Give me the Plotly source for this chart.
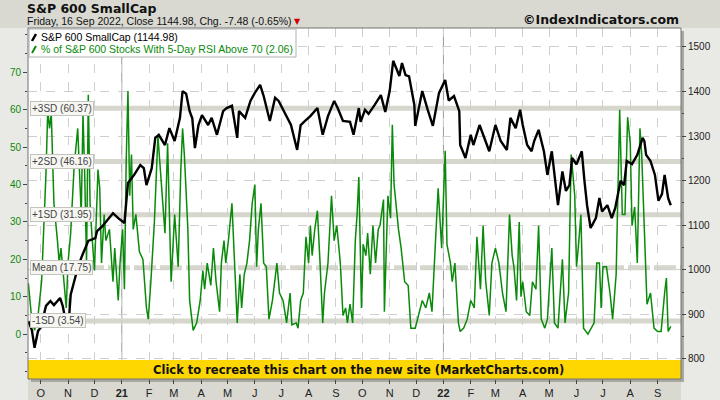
import plotly.graph_objects as go

# ---------------- data ----------------
spx_dates = [
    "2020-09-17", "2020-09-21", "2020-09-24", "2020-09-28", "2020-10-01", "2020-10-07", "2020-10-12",
    "2020-10-16", "2020-10-23", "2020-10-26", "2020-10-28", "2020-11-02", "2020-11-04", "2020-11-12",
    "2020-11-16", "2020-11-24", "2020-12-02", "2020-12-04", "2020-12-10", "2020-12-16", "2020-12-22",
    "2020-12-28", "2021-01-04", "2021-01-08", "2021-01-15", "2021-01-22", "2021-01-26", "2021-01-29",
    "2021-02-04", "2021-02-08", "2021-02-12", "2021-02-19", "2021-02-24", "2021-03-02", "2021-03-08",
    "2021-03-11", "2021-03-15", "2021-03-19", "2021-03-22", "2021-03-25", "2021-03-29", "2021-04-02",
    "2021-04-09", "2021-04-13", "2021-04-19", "2021-04-26", "2021-04-30", "2021-05-06", "2021-05-12",
    "2021-05-14", "2021-05-21", "2021-05-27", "2021-06-01", "2021-06-07", "2021-06-11", "2021-06-18",
    "2021-06-24", "2021-06-28", "2021-07-05", "2021-07-12", "2021-07-19", "2021-07-23", "2021-07-28",
    "2021-08-03", "2021-08-11", "2021-08-17", "2021-08-23", "2021-08-30", "2021-09-03", "2021-09-09",
    "2021-09-17", "2021-09-21", "2021-09-27", "2021-09-29", "2021-10-04", "2021-10-08", "2021-10-15",
    "2021-10-22", "2021-10-27", "2021-11-01", "2021-11-05", "2021-11-12", "2021-11-15", "2021-11-19",
    "2021-11-23", "2021-11-29", "2021-11-30", "2021-12-08", "2021-12-14", "2021-12-20", "2021-12-27",
    "2021-12-31", "2022-01-03", "2022-01-07", "2022-01-13", "2022-01-19", "2022-01-20", "2022-01-26",
    "2022-02-01", "2022-02-04", "2022-02-11", "2022-02-22", "2022-03-01", "2022-03-07", "2022-03-14",
    "2022-03-18", "2022-03-24", "2022-03-29", "2022-04-01", "2022-04-06", "2022-04-11", "2022-04-14",
    "2022-04-19", "2022-04-25", "2022-04-29", "2022-05-04", "2022-05-09", "2022-05-11", "2022-05-16",
    "2022-05-20", "2022-05-24", "2022-05-27", "2022-06-01", "2022-06-07", "2022-06-10", "2022-06-13",
    "2022-06-17", "2022-06-23", "2022-06-27", "2022-06-30", "2022-07-06", "2022-07-11", "2022-07-15",
    "2022-07-21", "2022-07-25", "2022-07-28", "2022-08-03", "2022-08-09", "2022-08-15", "2022-08-17",
    "2022-08-19", "2022-08-24", "2022-08-29", "2022-09-02", "2022-09-06", "2022-09-09", "2022-09-13",
    "2022-09-16",
]
spx_values = [
    885, 865, 825, 863, 870, 919, 930,
    921, 937, 919, 899, 888, 944, 1004,
    1027, 1065, 1071, 1087, 1098, 1112, 1127,
    1116, 1105, 1195, 1213, 1235, 1228, 1190,
    1228, 1296, 1303, 1280, 1318, 1289, 1341,
    1401, 1395, 1356, 1340, 1273, 1325, 1347,
    1325, 1341, 1303, 1356, 1363, 1368, 1296,
    1356, 1341, 1379, 1397, 1415, 1390, 1334,
    1386, 1379, 1352, 1325, 1269, 1325, 1334,
    1345, 1363, 1303, 1345, 1379, 1363, 1334,
    1332, 1303, 1363, 1332, 1359, 1350, 1370,
    1392, 1354, 1401, 1469, 1435, 1464, 1437,
    1434, 1370, 1323, 1401, 1360, 1323, 1397,
    1412, 1426, 1380, 1390, 1356, 1280, 1251,
    1303, 1280, 1325, 1266, 1325, 1289, 1269,
    1341, 1318, 1359, 1325, 1280, 1266, 1289,
    1314, 1266, 1213, 1266, 1184, 1145, 1221,
    1177, 1190, 1251, 1237, 1266, 1200, 1145,
    1094, 1116, 1161, 1131, 1145, 1116, 1139,
    1200, 1190, 1244, 1237, 1258, 1296, 1289,
    1258, 1244, 1213, 1155, 1170, 1213, 1161,
    1144.98,
]

rsi_dates = [
    "2020-09-17", "2020-09-20", "2020-09-24", "2020-09-28", "2020-10-02", "2020-10-07", "2020-10-09",
    "2020-10-11", "2020-10-13", "2020-10-16", "2020-10-20", "2020-10-22", "2020-10-24", "2020-10-28",
    "2020-10-30", "2020-11-01", "2020-11-04", "2020-11-08", "2020-11-12", "2020-11-16", "2020-11-18",
    "2020-11-20", "2020-11-22", "2020-11-24", "2020-11-26", "2020-11-28", "2020-11-30", "2020-12-01",
    "2020-12-05", "2020-12-07", "2020-12-09", "2020-12-12", "2020-12-14", "2020-12-18", "2020-12-22",
    "2020-12-24", "2020-12-28", "2020-12-30", "2021-01-02", "2021-01-04", "2021-01-06", "2021-01-08",
    "2021-01-10", "2021-01-12", "2021-01-14", "2021-01-17", "2021-01-21", "2021-01-25", "2021-01-29",
    "2021-01-31", "2021-02-03", "2021-02-07", "2021-02-11", "2021-02-15", "2021-02-19", "2021-02-22",
    "2021-02-24", "2021-02-26", "2021-03-02", "2021-03-06", "2021-03-09", "2021-03-11", "2021-03-13",
    "2021-03-17", "2021-03-19", "2021-03-21", "2021-03-23", "2021-03-27", "2021-03-31", "2021-04-03",
    "2021-04-05", "2021-04-08", "2021-04-12", "2021-04-15", "2021-04-18", "2021-04-22", "2021-04-24",
    "2021-04-27", "2021-04-29", "2021-05-02", "2021-05-06", "2021-05-09", "2021-05-12", "2021-05-15",
    "2021-05-17", "2021-05-20", "2021-05-23", "2021-05-26", "2021-05-29", "2021-06-01", "2021-06-03",
    "2021-06-05", "2021-06-08", "2021-06-11", "2021-06-14", "2021-06-17", "2021-06-21", "2021-06-26",
    "2021-06-29", "2021-07-03", "2021-07-07", "2021-07-11", "2021-07-13", "2021-07-18", "2021-07-20",
    "2021-07-23", "2021-07-26", "2021-07-29", "2021-08-01", "2021-08-03", "2021-08-05", "2021-08-08",
    "2021-08-11", "2021-08-14", "2021-08-17", "2021-08-19", "2021-08-23", "2021-08-27", "2021-08-30",
    "2021-09-02", "2021-09-06", "2021-09-09", "2021-09-12", "2021-09-14", "2021-09-17", "2021-09-20",
    "2021-09-23", "2021-09-25", "2021-09-27", "2021-09-30", "2021-10-02", "2021-10-05", "2021-10-07",
    "2021-10-10", "2021-10-13", "2021-10-16", "2021-10-19", "2021-10-21", "2021-10-25", "2021-10-26",
    "2021-10-30", "2021-11-02", "2021-11-04", "2021-11-06", "2021-11-11", "2021-11-14", "2021-11-18",
    "2021-11-22", "2021-11-25", "2021-11-30", "2021-12-04", "2021-12-08", "2021-12-12", "2021-12-16",
    "2021-12-19", "2021-12-23", "2021-12-26", "2021-12-30", "2022-01-03", "2022-01-05", "2022-01-09",
    "2022-01-11", "2022-01-14", "2022-01-18", "2022-01-20", "2022-01-24", "2022-01-28", "2022-02-01",
    "2022-02-05", "2022-02-08", "2022-02-12", "2022-02-15", "2022-02-18", "2022-02-22", "2022-02-25",
    "2022-03-01", "2022-03-05", "2022-03-09", "2022-03-13", "2022-03-17", "2022-03-20", "2022-03-22",
    "2022-03-25", "2022-03-28", "2022-03-30", "2022-04-01", "2022-04-05", "2022-04-09", "2022-04-12",
    "2022-04-16", "2022-04-19", "2022-04-22", "2022-04-26", "2022-04-29", "2022-05-04", "2022-05-07",
    "2022-05-11", "2022-05-16", "2022-05-19", "2022-05-23", "2022-05-26", "2022-05-30", "2022-06-01",
    "2022-06-03", "2022-06-06", "2022-06-09", "2022-06-14", "2022-06-21", "2022-06-24", "2022-06-27",
    "2022-06-29", "2022-07-01", "2022-07-05", "2022-07-09", "2022-07-12", "2022-07-16", "2022-07-20",
    "2022-07-23", "2022-07-26", "2022-07-29", "2022-08-01", "2022-08-03", "2022-08-06", "2022-08-09",
    "2022-08-12", "2022-08-14", "2022-08-17", "2022-08-20", "2022-08-24", "2022-08-28", "2022-09-01",
    "2022-09-05", "2022-09-09", "2022-09-11", "2022-09-13", "2022-09-16",
]
rsi_values = [
    13.6, 6, 1, 5, 14, 43, 60,
    55, 59, 35, 25, 19, 23, 12,
    7, 19, 27, 45, 55, 32, 59,
    42, 19, 64, 35, 27, 18, 17,
    44, 39, 19, 32, 25, 28, 14,
    23, 9, 19, 28, 12, 46, 65,
    37, 48, 28, 32, 22, 20, 7,
    4, 14, 30, 53, 41, 27, 51,
    32, 14, 32, 18, 44, 55, 48,
    28, 9, 5, 1, 3, 9, 17,
    12, 19, 13, 23, 14, 6, 19,
    25, 19, 25, 35, 19, 3, 16,
    7, 16, 19, 25, 35, 40, 18,
    28, 35, 19, 18, 4, 9, 19,
    11, 9, 3, 11, 2.5, 3, 1.6,
    9, 11, 26, 19, 29, 21, 28,
    33, 19, 3, 11, 19, 37, 25,
    29, 19, 5, 7, 3, 8, 3,
    25, 32, 42, 7, 24, 21, 27,
    16, 29, 19, 28, 29, 36, 6,
    37, 31, 56, 40, 28, 23, 14,
    13, 1.6, 1.6, 5, 9, 7, 11,
    6, 25, 39, 23, 49, 24, 19,
    14, 19, 3, 0.7, 1.6, 4, 9,
    7, 26, 12, 29, 14, 5, 19,
    23, 19, 11, 6, 32, 21, 18,
    9, 30, 10, 14, 6, 5, 14,
    12, 29, 4, 1.6, 4, 23, 3,
    1.6, 20, 3, 11, 48, 37, 18,
    23, 32, 1.6, 0, 3, 19, 19,
    7, 18, 18, 11, 4, 16, 60,
    32, 32, 58, 51, 29, 34, 19,
    55, 48, 28, 8, 11, 1.6, 0.7,
    0.7, 11, 15, 0.7, 2.06,
]

sd_labels = ["+3SD", "+2SD", "+1SD", "Mean", "-1SD"]
sd_values = [60.37, 46.16, 31.95, 17.75, 3.54]

month_ticks = [
    "2020-10-01", "2020-11-01", "2020-12-01", "2021-01-01", "2021-02-01", "2021-03-01", "2021-04-01",
    "2021-05-01", "2021-06-01", "2021-07-01", "2021-08-01", "2021-09-01", "2021-10-01", "2021-11-01",
    "2021-12-01", "2022-01-01", "2022-02-01", "2022-03-01", "2022-04-01", "2022-05-01", "2022-06-01",
    "2022-07-01", "2022-08-01", "2022-09-01",
]
month_labels = ["O", "N", "D", "<b>21</b>", "F", "M", "A", "M", "J", "J", "A", "S",
                "O", "N", "D", "<b>22</b>", "F", "M", "A", "M", "J", "J", "A", "S"]
year_starts = ["2021-01-01", "2022-01-01"]

# ---------------- layout helpers (pixel -> paper) ----------------
W, H = 720, 400
L, R, T, B = 28, 681, 28, 379


def fx(x):
    return (x - L) / (R - L)


def fy(y):
    return (B - y) / (B - T)


GREEN = "#0a8a0a"
FONT = "Liberation Sans"

fig = go.Figure()
fig.add_trace(go.Scatter(x=rsi_dates, y=rsi_values, mode="lines", yaxis="y",
                         line=dict(color=GREEN, width=1.5), hoverinfo="skip"))
fig.add_trace(go.Scatter(x=spx_dates, y=spx_values, mode="lines", yaxis="y2",
                         line=dict(color="black", width=2.4), hoverinfo="skip"))

shapes = []
annotations = []

# light axis strips
shapes.append(dict(type="rect", xref="paper", yref="paper", x0=fx(0), x1=fx(L), y0=fy(H), y1=fy(T),
                   fillcolor="#e9e9e5", line_width=0, layer="below"))
shapes.append(dict(type="rect", xref="paper", yref="paper", x0=fx(R), x1=fx(W), y0=fy(H), y1=fy(T),
                   fillcolor="#e9e9e5", line_width=0, layer="below"))
# shadow of plot frame
shapes.append(dict(type="rect", xref="paper", yref="paper", x0=fx(R), x1=fx(R + 3), y0=fy(B + 3), y1=fy(T + 3),
                   fillcolor="#a8a8a0", line_width=0, layer="below"))
shapes.append(dict(type="rect", xref="paper", yref="paper", x0=fx(L + 3), x1=fx(R + 3), y0=fy(B + 3), y1=fy(B),
                   fillcolor="#a8a8a0", line_width=0, layer="below"))

# year separators
for d in year_starts:
    shapes.append(dict(type="line", xref="x", yref="paper", x0=d, x1=d, y0=0, y1=1,
                       line=dict(color="#9a9a9a", width=1), layer="below"))

# SD bands
for lab, v in zip(sd_labels, sd_values):
    shapes.append(dict(type="line", xref="paper", yref="y", x0=fx(30), x1=1, y0=v, y1=v,
                       line=dict(color="#d6d6cc", width=5, dash="22px,4px" if lab == "Mean" else "solid"),
                       layer="below"))
    annotations.append(dict(xref="paper", yref="y", x=fx(30), y=v, xanchor="left", yanchor="middle",
                            text=f"{lab} ({v:.2f})", showarrow=False,
                            font=dict(family=FONT, size=10, color="#444"),
                            bgcolor="#f6f6f2", bordercolor="#c4c4bc", borderwidth=1, borderpad=1))

# banner
shapes.append(dict(type="rect", xref="paper", yref="paper", x0=0, x1=1, y0=0, y1=fy(360),
                   fillcolor="#ffd700", line_width=0, layer="above"))
annotations.append(dict(xref="paper", yref="paper", x=fx(358), y=fy(369.5), xanchor="center", yanchor="middle",
                        text="<b>Click to recreate this chart on the new site (MarketCharts.com)</b>",
                        showarrow=False, font=dict(family="DejaVu Sans", size=11.5, color="#111")))

# plot frame
shapes.append(dict(type="rect", xref="paper", yref="paper", x0=0, x1=1, y0=0, y1=1,
                   line=dict(color="#707070", width=1), layer="above"))

# legend box
shapes.append(dict(type="rect", xref="paper", yref="paper", x0=fx(29), x1=fx(296), y0=fy(57), y1=fy(29),
                   fillcolor="white", line=dict(color="#b0b0b0", width=1), layer="above"))
shapes.append(dict(type="line", xref="paper", yref="paper", x0=fx(32), x1=fx(36), y0=fy(41), y1=fy(34),
                   line=dict(color="black", width=2.5), layer="above"))
shapes.append(dict(type="line", xref="paper", yref="paper", x0=fx(32), x1=fx(36), y0=fy(53), y1=fy(46),
                   line=dict(color=GREEN, width=2), layer="above"))
annotations.append(dict(xref="paper", yref="paper", x=fx(39), y=fy(36.5), xanchor="left", yanchor="middle",
                        text=f"S&P 600 SmallCap ({spx_values[-1]:.2f})", showarrow=False,
                        font=dict(family=FONT, size=10.5, color="black")))
annotations.append(dict(xref="paper", yref="paper", x=fx(39), y=fy(49), xanchor="left", yanchor="middle",
                        text=f"% of S&P 600 Stocks With 5-Day RSI Above 70 ({rsi_values[-1]:.2f})", showarrow=False,
                        font=dict(family=FONT, size=10.5, color=GREEN)))

# titles
annotations.append(dict(xref="paper", yref="paper", x=fx(25), y=fy(8), xanchor="left", yanchor="middle",
                        text="<b>S&P 600 SmallCap</b>", showarrow=False,
                        font=dict(family="DejaVu Sans", size=12.5, color="#111")))
annotations.append(dict(xref="paper", yref="paper", x=fx(25), y=fy(20.5), xanchor="left", yanchor="middle",
                        text="Friday, 16 Sep 2022, Close 1144.98, Chg. -7.48 (-0.65%)", showarrow=False,
                        font=dict(family=FONT, size=10.5, color="#111")))
annotations.append(dict(xref="paper", yref="paper", x=fx(292), y=fy(21.5), xanchor="left", yanchor="middle",
                        text="▼", showarrow=False, font=dict(family="DejaVu Sans", size=8, color="#d00000")))
annotations.append(dict(xref="paper", yref="paper", x=fx(681), y=fy(19), xanchor="right", yanchor="middle",
                        text="<b>©IndexIndicators.com</b>", showarrow=False,
                        font=dict(family="DejaVu Sans", size=12.5, color="#111")))

fig.update_layout(
    width=W, height=H,
    margin=dict(l=L, r=W - R, t=T, b=H - B, pad=0, autoexpand=False),
    paper_bgcolor="#d9d9d2",
    plot_bgcolor="white",
    showlegend=False,
    shapes=shapes,
    annotations=annotations,
    xaxis=dict(
        type="date",
        range=["2020-09-16 14:00", "2022-09-27 14:00"],
        tickvals=month_ticks, ticktext=month_labels,
        showgrid=True, gridcolor="#cfcfcf", griddash="dash", gridwidth=1,
        ticks="outside", ticklen=4, tickcolor="#444",
        tickfont=dict(family=FONT, size=11, color="#222"),
        showline=False, zeroline=False, automargin=False,
    ),
    yaxis=dict(
        range=[-12.0, 81.85],
        tickvals=[0, 10, 20, 30, 40, 50, 60, 70],
        showgrid=False, zeroline=False,
        ticks="outside", ticklen=4, tickcolor="#444",
        minor=dict(dtick=5, ticks="outside", ticklen=2, tickcolor="#444"),
        tickfont=dict(family=FONT, size=10, color=GREEN),
        showline=False, automargin=False,
    ),
    yaxis2=dict(
        range=[755.1, 1542.6],
        overlaying="y", side="right",
        tickvals=[800, 900, 1000, 1100, 1200, 1300, 1400, 1500],
        showgrid=True, gridcolor="#cfcfcf", griddash="dash", gridwidth=1,
        zeroline=False,
        ticks="outside", ticklen=4, tickcolor="#444",
        minor=dict(dtick=50, ticks="outside", ticklen=2, tickcolor="#444"),
        tickfont=dict(family=FONT, size=10, color="#222"),
        showline=False, automargin=False,
    ),
)

fig.write_html("out.html", config={"displayModeBar": False},
               post_script="document.body.style.margin='0';document.body.style.padding='0';")
